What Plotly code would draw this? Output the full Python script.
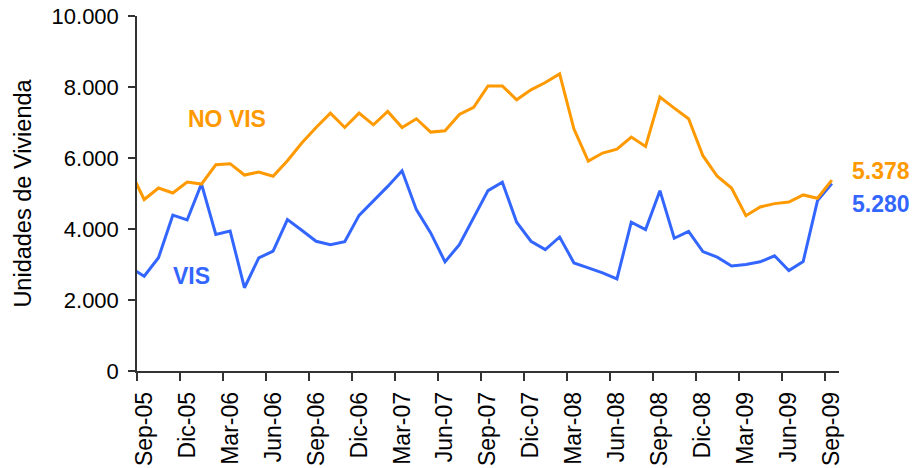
import plotly.graph_objects as go

# Monthly categories (first month lies just left of the plotted window)
months = ["Ago-05",
          "Sep-05", "Oct-05", "Nov-05", "Dic-05", "Ene-06", "Feb-06", "Mar-06", "Abr-06",
          "May-06", "Jun-06", "Jul-06", "Ago-06", "Sep-06", "Oct-06", "Nov-06", "Dic-06",
          "Ene-07", "Feb-07", "Mar-07", "Abr-07", "May-07", "Jun-07", "Jul-07", "Ago-07",
          "Sep-07", "Oct-07", "Nov-07", "Dic-07", "Ene-08", "Feb-08", "Mar-08", "Abr-08",
          "May-08", "Jun-08", "Jul-08", "Ago-08", "Sep-08", "Oct-08", "Nov-08", "Dic-08",
          "Ene-09", "Feb-09", "Mar-09", "Abr-09", "May-09", "Jun-09", "Jul-09", "Ago-09",
          "Sep-09"]

vis = [2920,
       2670, 3190, 4390, 4255, 5270, 3845, 3945, 2345,
       3185, 3375, 4265, 3965, 3655, 3560, 3645, 4385,
       4780, 5200, 5640, 4545, 3890, 3075, 3560, 4310,
       5080, 5320, 4190, 3655, 3420, 3775, 3045, 2905,
       2765, 2595, 4190, 3985, 5080, 3740, 3935, 3365,
       3205, 2960, 3000, 3075, 3245, 2830, 3085, 4800,
       5280]

no_vis = [5660,
          4830, 5155, 5015, 5325, 5265, 5810, 5840, 5520,
          5605, 5485, 5925, 6420, 6860, 7265, 6860, 7265,
          6935, 7310, 6860, 7105, 6730, 6765, 7225, 7425,
          8030, 8030, 7640, 7920, 8125, 8370, 6815, 5915,
          6140, 6250, 6590, 6325, 7715, 7405, 7105, 6065,
          5485, 5155, 4375, 4620, 4715, 4760, 4960, 4865,
          5378]

series_names = ["VIS", "NO VIS"]
colors = ["#3366FF", "#FF9900"]
y_title = "Unidades de Vivienda"
y_ticks = [0, 2000, 4000, 6000, 8000, 10000]

x = list(range(len(months)))
label_idx = [i for i in x if i >= 1 and (i - 1) % 3 == 0]
label_txt = [months[i] for i in label_idx]
bound_vals = [i - 0.5 for i in label_idx]

FONT = "Arial, 'Liberation Sans', sans-serif"

fig = go.Figure()
for name, vals, col in zip(series_names, [vis, no_vis], colors):
    fig.add_trace(go.Scatter(x=x, y=vals, mode="lines", name=name,
                             line=dict(color=col, width=3), hoverinfo="skip"))

def fmt(v):
    return f"{v:,}".replace(",", ".")

fig.update_layout(
    width=913, height=468,
    margin=dict(l=137, r=74, t=16, b=97, autoexpand=False),
    paper_bgcolor="white", plot_bgcolor="white",
    showlegend=False,
    separators=",.",
    font=dict(family=FONT, size=21, color="black"),
    xaxis=dict(
        automargin=False,
        range=[0.5, len(months) - 0.5],
        tickmode="array", tickvals=label_idx, ticktext=label_txt,
        tickangle=-90, ticks="outside", ticklen=10, tickcolor="rgba(0,0,0,0)",
        tickfont=dict(size=23), ticklabeloverflow="allow",
        showline=True, linecolor="#333333", linewidth=1.5,
        showgrid=False, zeroline=False,
        minor=dict(tickmode="array", tickvals=bound_vals, ticks="outside",
                   ticklen=8, tickcolor="#333333", tickwidth=1.5, showgrid=False),
    ),
    yaxis=dict(
        automargin=False,
        range=[0, 10000],
        tickmode="array", tickvals=y_ticks, tickformat=",d",
        ticks="outside", ticklen=7, tickcolor="#333333", tickwidth=1.5,
        tickfont=dict(size=22), ticklabeloverflow="allow", ticklabelstandoff=5,
        showline=True, linecolor="#333333", linewidth=1.5,
        showgrid=False, zeroline=False,
        title=dict(text=y_title, font=dict(size=23.5), standoff=13),
    ),
)

# Series labels
fig.add_annotation(x=6.8, y=7090, text="<b>NO VIS</b>", showarrow=False,
                   font=dict(size=23, color=colors[1], family=FONT))
fig.add_annotation(x=4.3, y=2670, text="<b>VIS</b>", showarrow=False,
                   font=dict(size=23, color=colors[0], family=FONT))
# End values
fig.add_annotation(x=1.0, xref="paper", xshift=11, y=5626, text=f"<b>{fmt(no_vis[-1])}</b>",
                   showarrow=False, xanchor="left",
                   font=dict(size=23, color=colors[1], family=FONT))
fig.add_annotation(x=1.0, xref="paper", xshift=11, y=4698, text=f"<b>{fmt(vis[-1])}</b>",
                   showarrow=False, xanchor="left",
                   font=dict(size=23, color=colors[0], family=FONT))

# remove the page's default body margin so the figure fills the window exactly
fig.write_html("out.html",
               config={"displayModeBar": False},
               post_script="document.body.style.margin='0';document.body.style.overflow='hidden';")
